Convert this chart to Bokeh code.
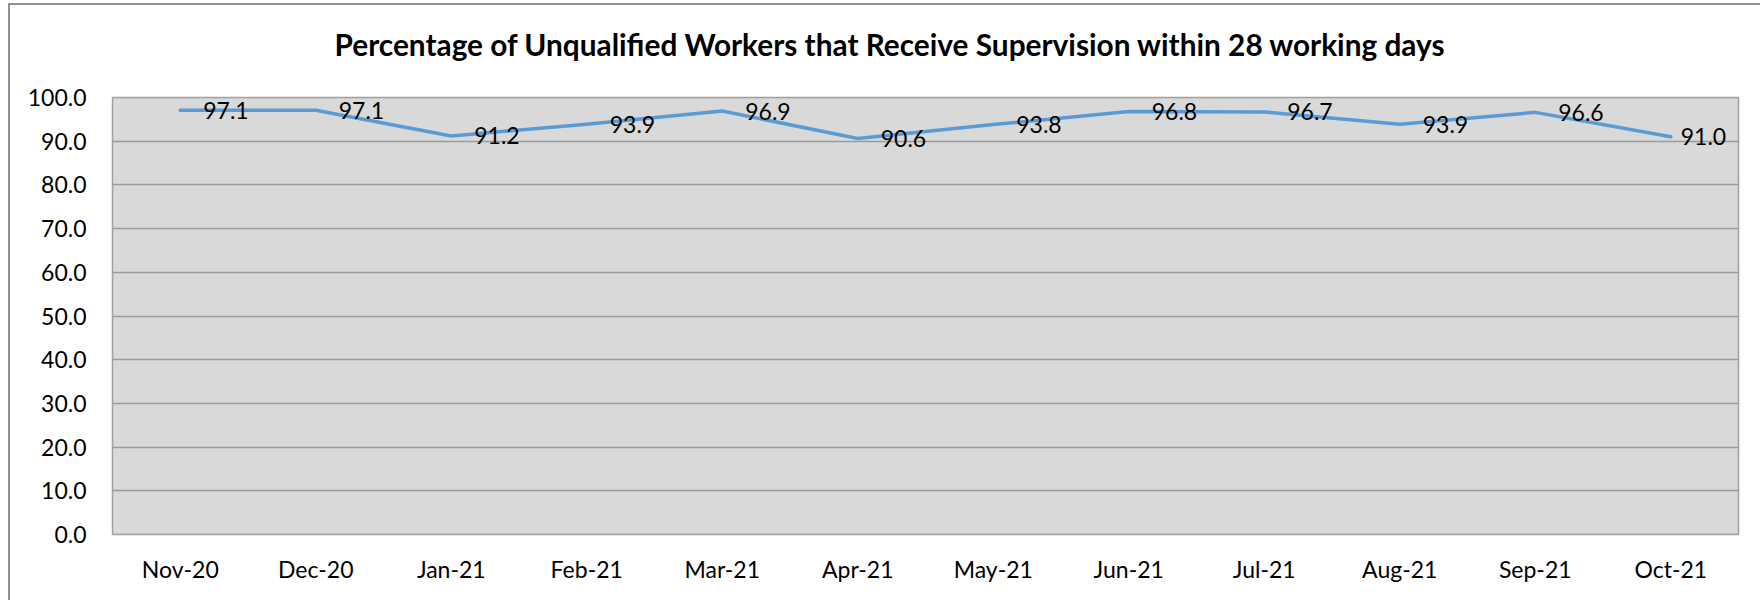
from bokeh.plotting import figure
from bokeh.layouts import column
from bokeh.models import FixedTicker, PrintfTickFormatter, Range1d, FactorRange, Title, ColumnDataSource
from bokeh.core.properties import value
from bokeh.embed import file_html
from bokeh.resources import INLINE

months = ["Nov-20", "Dec-20", "Jan-21", "Feb-21", "Mar-21", "Apr-21",
          "May-21", "Jun-21", "Jul-21", "Aug-21", "Sep-21", "Oct-21"]
pct = [97.1, 97.1, 91.2, 93.9, 96.9, 90.6, 93.8, 96.8, 96.7, 93.9, 96.6, 91.0]
y_ticks = [0, 10, 20, 30, 40, 50, 60, 70, 80, 90, 100]
title_text = "Percentage of Unqualified Workers that Receive Supervision within 28 working days"

FONT = "Lato"

p = figure(x_range=FactorRange(*months, range_padding=0), y_range=Range1d(0, 100),
           frame_width=1626, frame_height=437,
           min_border_left=102, min_border_right=22, min_border_top=92, min_border_bottom=50,
           output_backend="svg", toolbar_location=None, tools="",
           styles={"position": "relative", "top": "-16px"})

p.background_fill_color = "#D9D9D9"
p.border_fill_color = None
p.outline_line_color = "#a0a0a0"
p.outline_line_width = 1.5

p.xgrid.grid_line_color = None
p.ygrid.grid_line_color = "#9b9b9b"
p.ygrid.grid_line_width = 1.5
p.yaxis.ticker = FixedTicker(ticks=y_ticks)
p.yaxis.formatter = PrintfTickFormatter(format="%.1f")

for ax in (p.xaxis[0], p.yaxis[0]):
    ax.axis_line_color = None
    ax.major_tick_line_color = None
    ax.minor_tick_line_color = None
    ax.major_tick_out = 0
    ax.major_tick_in = 0
    ax.major_label_text_font = FONT
    ax.major_label_text_font_size = "23px"
    ax.major_label_text_color = "black"
p.yaxis.major_label_standoff = 26
p.xaxis.major_label_standoff = 20

n = len(months)
offs = [23] * (n - 1) + [10]
src = ColumnDataSource(dict(x=months, y=pct, t=[f"{v:.1f}" for v in pct], xo=offs))

p.line("x", "y", source=src, line_color="#5B9BD5", line_width=3.5, line_join="round", line_cap="round")
p.text("x", "y", text="t", source=src, x_offset="xo", y_offset=0,
       text_font=value(FONT), text_font_size="23px", text_color="black",
       text_align="left", text_baseline="middle")

title = Title(text=title_text, align="left", offset=222, standoff=71,
              text_font=FONT, text_font_size="29.8px", text_font_style="bold", text_color="black")
p.add_layout(title, "above")

layout = column(p, styles={"border-left": "2px solid #8f8f8f", "border-top": "2px solid #8f8f8f",
                           "position": "relative", "left": "8px", "top": "3px"})

open("out.html", "w").write(file_html(layout, INLINE))
